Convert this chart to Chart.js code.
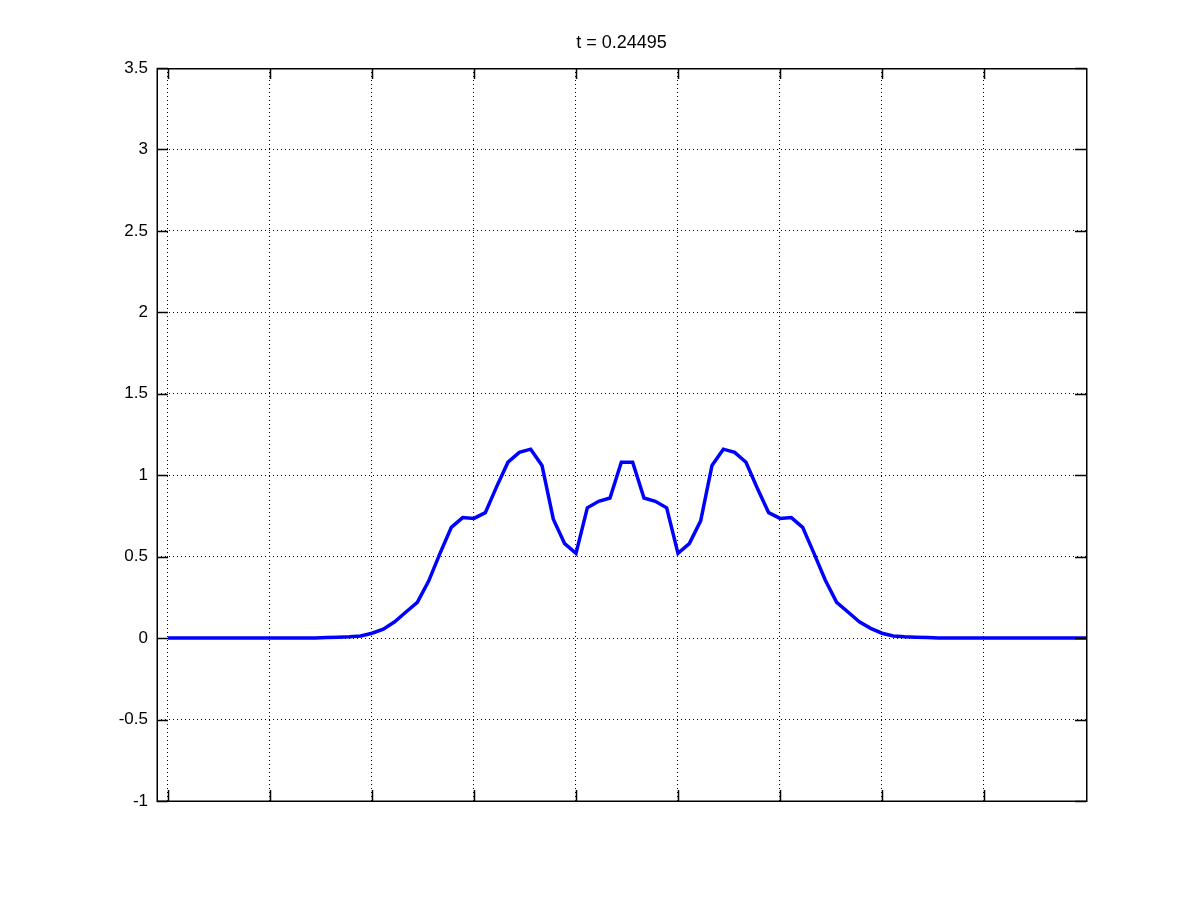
<!DOCTYPE html>
<html>
<head>
<meta charset="utf-8">
<script src="https://cdn.jsdelivr.net/npm/chart.js@4"></script>
<style>
  html, body { margin: 0; padding: 0; background: #fff; }
  canvas { display: block; }
</style>
</head>
<body>
<canvas id="plot" width="1200" height="900"></canvas>
<script>
// sample index along x (grid lines every 9 samples)
const xs = [0, 1, 2, 3, 4, 5, 6, 7, 8, 9, 10, 11, 12, 13, 14, 15, 16, 17, 18, 19,
  20, 21, 22, 23, 24, 25, 26, 27, 28, 29, 30, 31, 32, 33, 34, 35, 36, 37, 38, 39,
  40, 41, 42, 43, 44, 45, 46, 47, 48, 49, 50, 51, 52, 53, 54, 55, 56, 57, 58, 59,
  60, 61, 62, 63, 64, 65, 66, 67, 68, 69, 70, 71, 72, 73, 74, 75, 76, 77, 78, 79,
  80, 81];
const u = [0, 0, 0, 0, 0, 0, 0, 0, 0, 0, 0, 0, 0, 0, 0.003, 0.005, 0.008, 0.013, 0.03, 0.055,
  0.1, 0.16, 0.22, 0.35, 0.52, 0.68, 0.74, 0.735, 0.77, 0.93, 1.08, 1.14, 1.16, 1.06, 0.73, 0.58,
  0.52, 0.8, 0.84, 0.86, 1.08, 1.08, 0.86, 0.84, 0.8, 0.52, 0.58, 0.72, 1.06, 1.16, 1.14, 1.08,
  0.92, 0.77, 0.735, 0.74, 0.68, 0.52, 0.355, 0.22, 0.16, 0.1, 0.06, 0.03, 0.013, 0.008, 0.005, 0.003,
  0, 0, 0, 0, 0, 0, 0, 0, 0, 0, 0, 0, 0, 0];
const xTicks = [0, 9, 18, 27, 36, 45, 54, 63, 72];
const yTicks = [-1, -0.5, 0, 0.5, 1, 1.5, 2, 2.5, 3, 3.5];
const title = 't = 0.24495';

const FONT = '"Liberation Sans", Arial, sans-serif';

// box, inward tick marks and title, octave style
const frame = {
  id: 'frame',
  afterDraw(chart) {
    const { ctx, chartArea: a, scales } = chart;
    const L = Math.round(a.left), R = Math.round(a.right);
    const T = Math.round(a.top), B = Math.round(a.bottom);
    const len = 11;
    ctx.save();
    ctx.fillStyle = '#000';
    // frame
    ctx.fillRect(L, T, R - L + 1, 1.5);
    ctx.fillRect(L, B - 0.5, R - L + 1, 1.5);
    ctx.fillRect(L - 0.5, T, 1.5, B - T + 1);
    ctx.fillRect(R, T, 1.5, B - T + 1);
    // inward ticks
    xTicks.forEach(v => {
      const x = Math.round(scales.x.getPixelForValue(v));
      ctx.fillRect(x - 0.25, B - len, 1.5, len);
      ctx.fillRect(x - 0.25, T, 1.5, len);
    });
    yTicks.forEach(v => {
      const y = Math.round(scales.y.getPixelForValue(v));
      ctx.fillRect(L, y - 0.25, len, 1.5);
      ctx.fillRect(R - len, y - 0.25, len, 1.5);
    });
    ctx.font = '18px ' + FONT;
    ctx.textAlign = 'center';
    ctx.textBaseline = 'middle';
    ctx.fillText(title, (a.left + a.right) / 2, 43);
    ctx.restore();
  }
};

new Chart(document.getElementById('plot'), {
  type: 'line',
  data: {
    datasets: [{
      data: xs.map((x, i) => ({ x: x, y: u[i] })),
      borderColor: '#0000ff',
      borderWidth: 3.5,
      pointRadius: 0,
      tension: 0,
      fill: false
    }]
  },
  options: {
    responsive: false,
    animation: false,
    layout: { padding: { left: 0, right: 114, top: 68, bottom: 0 } },
    plugins: { legend: { display: false }, tooltip: { enabled: false } },
    scales: {
      x: {
        type: 'linear',
        min: -0.97,
        max: 81,
        afterBuildTicks: s => { s.ticks = xTicks.map(v => ({ value: v })); },
        afterFit: s => { s.height = 99; },
        ticks: { display: false },
        grid: { color: '#000', lineWidth: 1, drawTicks: false },
        border: { display: false, dash: [1, 3] }
      },
      y: {
        type: 'linear',
        min: -1,
        max: 3.5,
        afterBuildTicks: s => { s.ticks = yTicks.map(v => ({ value: v })); },
        afterFit: s => { s.width = 157; },
        ticks: {
          color: '#000',
          padding: 9,
          font: { family: FONT, size: 17 },
          callback: v => String(v)
        },
        grid: { color: '#000', lineWidth: 1, drawTicks: false },
        border: { display: false, dash: [1, 3] }
      }
    }
  },
  plugins: [frame]
});
</script>
</body>
</html>
